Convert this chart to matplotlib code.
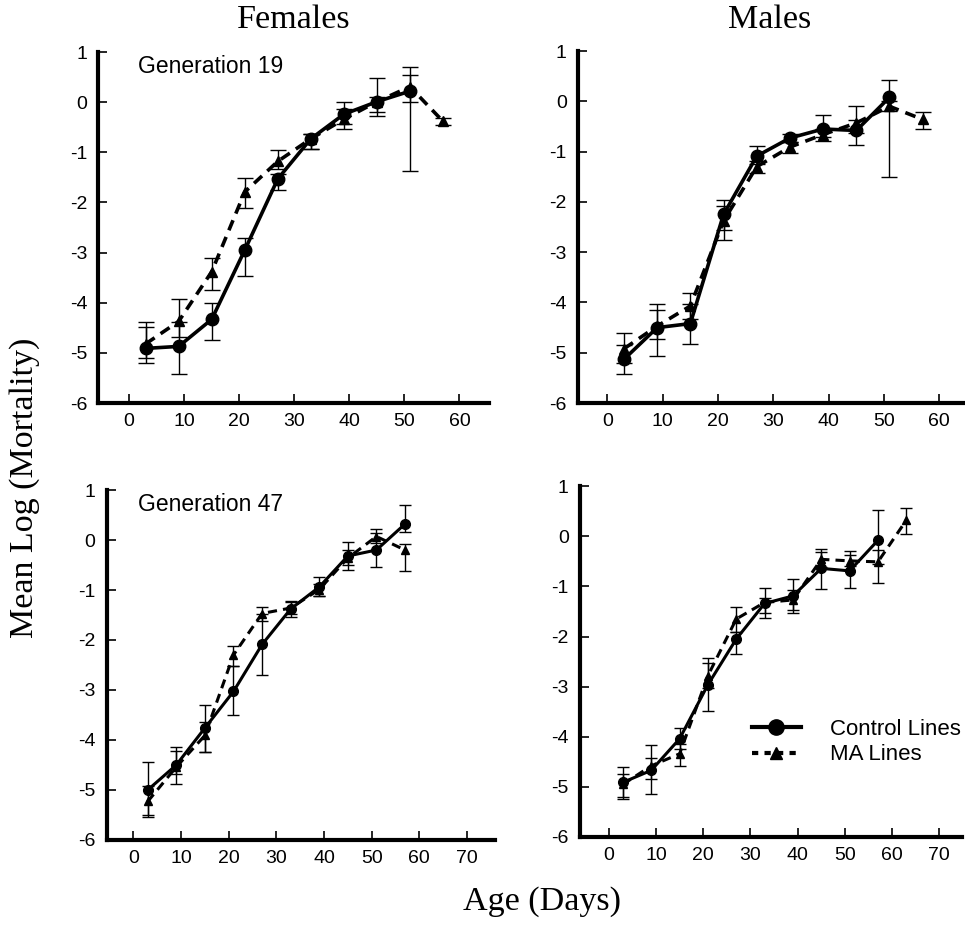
import matplotlib
matplotlib.use("Agg")
import matplotlib.pyplot as plt
from matplotlib.lines import Line2D

plt.rcParams["axes.unicode_minus"] = False

# ages (days)
age_ctrl_f19 = [3, 9, 15, 21, 27, 33, 39, 45, 51]
age_ma_f19 = [3, 9, 15, 21, 27, 33, 39, 45, 51, 57]
age_ctrl_m19 = [3, 9, 15, 21, 27, 33, 39, 45, 51]
age_ma_m19 = [3, 9, 15, 21, 27, 33, 39, 45, 51, 57]
age_ctrl_f47 = [3, 9, 15, 21, 27, 33, 39, 45, 51, 57]
age_ma_f47 = [3, 9, 15, 21, 27, 33, 39, 45, 51, 57]
age_ctrl_m47 = [3, 9, 15, 21, 27, 33, 39, 45, 51, 57]
age_ma_m47 = [3, 9, 15, 21, 27, 33, 39, 45, 51, 57, 63]

# Females, generation 19
ctrl_f19 = [-4.91, -4.87, -4.33, -2.95, -1.53, -0.73, -0.24, 0.01, 0.22]
ctrl_f19_lo = [0.29, 0.55, 0.41, 0.51, 0.23, 0.20, 0.20, 0.20, 1.60]
ctrl_f19_hi = [0.42, 0.48, 0.32, 0.25, 0.10, 0.10, 0.24, 0.10, 0.49]
ma_f19 = [-4.82, -4.37, -3.38, -1.79, -1.18, -0.73, -0.34, 0.01, 0.31, -0.38]
ma_f19_lo = [0.28, 0.32, 0.36, 0.32, 0.16, 0.20, 0.19, 0.29, 0.31, 0.07]
ma_f19_hi = [0.43, 0.44, 0.27, 0.28, 0.23, 0.10, 0.20, 0.47, 0.23, 0.07]

# Males, generation 19
ctrl_m19 = [-5.13, -4.50, -4.42, -2.25, -1.09, -0.73, -0.55, -0.58, 0.08]
ctrl_m19_lo = [0.29, 0.57, 0.41, 0.30, 0.15, 0.08, 0.15, 0.29, 1.58]
ctrl_m19_hi = [0.28, 0.46, 0.38, 0.28, 0.20, 0.08, 0.27, 0.20, 0.34]
ma_m19 = [-4.92, -4.47, -4.07, -2.38, -1.30, -0.91, -0.66, -0.43, -0.10, -0.36]
ma_m19_lo = [0.28, 0.25, 0.26, 0.37, 0.12, 0.12, 0.12, 0.20, 0.10, 0.20]
ma_m19_hi = [0.32, 0.33, 0.26, 0.30, 0.12, 0.10, 0.10, 0.33, 0.10, 0.14]

# Females, generation 47
ctrl_f47 = [-5.00, -4.50, -3.76, -3.03, -2.09, -1.38, -0.94, -0.32, -0.20, 0.32]
ctrl_f47_lo = [0.50, 0.39, 0.48, 0.48, 0.61, 0.16, 0.17, 0.28, 0.33, 0.15]
ctrl_f47_hi = [0.56, 0.36, 0.45, 0.50, 0.62, 0.17, 0.20, 0.29, 0.35, 0.38]
ma_f47 = [-5.23, -4.54, -3.91, -2.30, -1.47, -1.36, -0.99, -0.36, 0.07, -0.20]
ma_f47_lo = [0.32, 0.15, 0.34, 0.22, 0.15, 0.12, 0.12, 0.14, 0.12, 0.42]
ma_f47_hi = [0.30, 0.32, 0.27, 0.18, 0.13, 0.12, 0.12, 0.16, 0.16, 0.12]

# Males, generation 47
ctrl_m47 = [-4.91, -4.67, -4.04, -2.96, -2.05, -1.34, -1.19, -0.64, -0.69, -0.08]
ctrl_m47_lo = [0.30, 0.48, 0.21, 0.53, 0.30, 0.30, 0.35, 0.42, 0.35, 0.47]
ctrl_m47_hi = [0.31, 0.50, 0.22, 0.53, 0.15, 0.30, 0.34, 0.38, 0.40, 0.61]
ma_m47 = [-4.95, -4.58, -4.34, -2.78, -1.65, -1.32, -1.27, -0.46, -0.49, -0.51, 0.32]
ma_m47_lo = [0.29, 0.27, 0.24, 0.25, 0.25, 0.22, 0.20, 0.15, 0.11, 0.42, 0.27]
ma_m47_hi = [0.20, 0.16, 0.19, 0.25, 0.23, 0.08, 0.20, 0.15, 0.11, 0.23, 0.24]

serif = "Liberation Serif"
sans = "Liberation Sans"

fig = plt.figure(figsize=(9.65, 9.33), dpi=100)

# [left, bottom, width, height], xlim, xticks, big markers, data, label, label x
panels = [
    ([0.1019, 0.568, 0.405, 0.3762], (-5.6, 65.4), range(0, 61, 10), True,
     age_ctrl_f19, ctrl_f19, ctrl_f19_lo, ctrl_f19_hi,
     age_ma_f19, ma_f19, ma_f19_lo, ma_f19_hi, "Generation 19", 0.102),
    ([0.5987, 0.568, 0.3993, 0.3773], (-5.35, 64.3), range(0, 61, 10), True,
     age_ctrl_m19, ctrl_m19, ctrl_m19_lo, ctrl_m19_hi,
     age_ma_m19, ma_m19, ma_m19_lo, ma_m19_hi, None, 0),
    ([0.1106, 0.0997, 0.4024, 0.3751], (-5.6, 75.9), range(0, 71, 10), False,
     age_ctrl_f47, ctrl_f47, ctrl_f47_lo, ctrl_f47_hi,
     age_ma_f47, ma_f47, ma_f47_lo, ma_f47_hi, "Generation 47", 0.08),
    ([0.601, 0.1029, 0.3959, 0.376], (-6.1, 74.8), range(0, 71, 10), False,
     age_ctrl_m47, ctrl_m47, ctrl_m47_lo, ctrl_m47_hi,
     age_ma_m47, ma_m47, ma_m47_lo, ma_m47_hi, None, 0),
]

axes = []
for (rect, xlim, xt, big, ac, c, clo, chi, am, m, mlo, mhi, label, lx) in panels:
    ax = fig.add_axes(rect)
    axes.append(ax)
    if big:
        lw, ms_c, ms_t, cap = 2.6, 9, 7.5, 6
    else:
        lw, ms_c, ms_t, cap = 2.2, 7, 6, 4
    ax.errorbar(am, m, yerr=[mlo, mhi], color="black", lw=lw,
                linestyle=(0, (3, 2)), marker="^", ms=ms_t,
                elinewidth=1, capsize=cap, capthick=1, zorder=2)
    ax.errorbar(ac, c, yerr=[clo, chi], color="black", lw=lw,
                linestyle="-", marker="o", ms=ms_c,
                elinewidth=1, capsize=cap, capthick=1, zorder=3)
    ax.set_xlim(*xlim)
    ax.set_ylim(-6, 1)
    ax.set_xticks(list(xt))
    ax.set_yticks(range(-6, 2))
    ax.spines["top"].set_visible(False)
    ax.spines["right"].set_visible(False)
    ax.spines["left"].set_linewidth(3)
    ax.spines["bottom"].set_linewidth(3)
    ax.tick_params(direction="in", length=6.5, width=1.2, labelsize=14)
    ax.tick_params(axis="x", pad=7)
    ax.tick_params(axis="y", pad=8)
    for t in ax.get_xticklabels() + ax.get_yticklabels():
        t.set_fontfamily(sans)
    if label:
        ax.text(lx, 0.958, label, transform=ax.transAxes, ha="left",
                va="center", fontsize=16.5, family=sans)

handles = [
    Line2D([], [], color="black", lw=3, marker="o", ms=11),
    Line2D([], [], color="black", lw=3, linestyle=(0, (1.5, 1.5)),
           marker="^", ms=9),
]
axes[3].legend(handles, ["Control Lines", "MA Lines"], loc="center left",
               bbox_to_anchor=(0.45, 0.27), frameon=False, borderpad=0,
               borderaxespad=0, handlelength=2.2, handletextpad=1.3,
               labelspacing=0.2, prop={"family": sans, "size": 16})

fig.text(293.6 / 965, 1 - 20 / 933, "Females", ha="center", va="center",
         fontsize=24.5, family=serif)
fig.text(770 / 965, 1 - 20 / 933, "Males", ha="center", va="center",
         fontsize=24.5, family=serif)
fig.text(25 / 965, 1 - 488 / 933, "Mean Log (Mortality)", rotation=90,
         ha="center", va="center", fontsize=24.5, family=serif)
fig.text(542 / 965, 1 - 902 / 933, "Age (Days)", ha="center", va="center",
         fontsize=24.5, family=serif)

fig.savefig("out.png", dpi=100)
